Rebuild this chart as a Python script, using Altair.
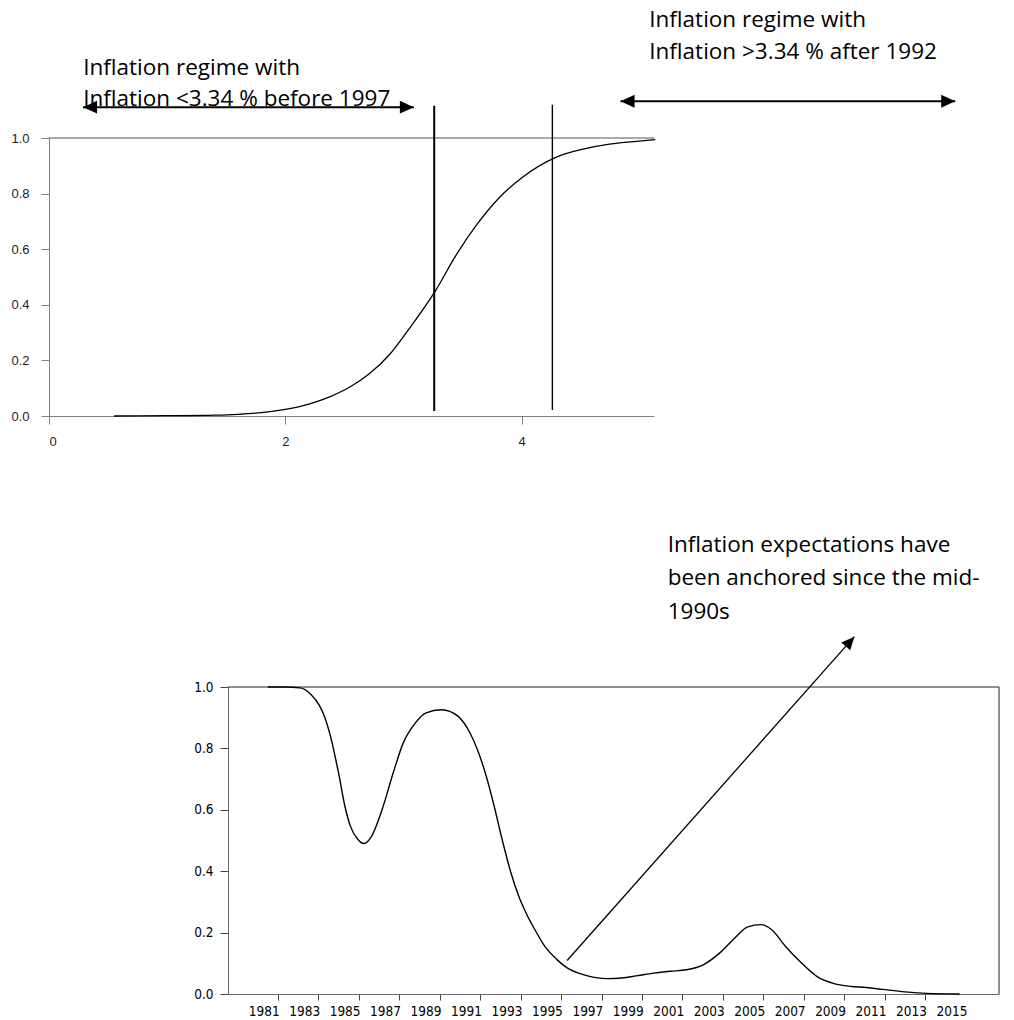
import altair as alt
import pandas as pd

# ---------------- top chart data (transition probability vs inflation) ----------------
infl = [0.55, 1.0, 1.4, 1.6, 1.8, 2.0, 2.2, 2.37, 2.55, 2.7, 2.89, 3.05, 3.27, 3.44,
        3.62, 3.81, 4.01, 4.27, 4.54, 4.73, 4.95, 5.13]
prob = [0.0, 0.001, 0.003, 0.006, 0.012, 0.024, 0.043, 0.068, 0.105, 0.148, 0.225, 0.315,
        0.45, 0.575, 0.688, 0.785, 0.86, 0.927, 0.962, 0.977, 0.987, 0.994]
top_xticks = [0, 2, 4]
top_yticks = [0.0, 0.2, 0.4, 0.6, 0.8, 1.0]
top_xdomain = [0, 5.12]
vline_x = [3.26, 4.26]
vline_y0 = [0.018, 0.022]
vline_y1 = [1.116, 1.12]
vline_w = [2.0, 1.4]

# arrows (double headed) in top chart coordinates
arrow_x0 = [0.288, 4.837]
arrow_x1 = [3.088, 7.669]
arrow_y = [1.111, 1.132]

top_text = ["Inflation regime with", "Inflation <3.34 % before 1997",
            "Inflation regime with", "Inflation >3.34 % after 1992"]
top_text_x = [0.29, 0.29, 5.08, 5.08]
top_text_y = [1.253, 1.141, 1.4231, 1.31]

# ---------------- bottom chart data (probability over time) ----------------
years = [1981.2, 1982.0, 1982.8, 1983.35, 1983.75, 1984.0, 1984.3, 1984.7, 1985.02, 1985.29,
         1985.64, 1985.96, 1986.3, 1986.85, 1987.4, 1987.9, 1988.5, 1989.0, 1989.8, 1990.6,
         1991.2, 1991.6, 1992.0, 1992.4, 1992.8, 1993.2, 1993.6, 1994.0, 1994.4, 1994.9,
         1995.5, 1996.0, 1996.8, 1998.0, 1998.7, 1999.5, 2000.3, 2001.1, 2001.9, 2002.75,
         2003.55, 2004.4, 2004.9, 2005.6, 2006.1, 2006.8, 2007.6, 2008.4, 2009.2, 2010.0,
         2010.8, 2011.6, 2012.7, 2013.8, 2015.4]
values = [1.0, 1.0, 0.997, 0.975, 0.94, 0.905, 0.84, 0.72, 0.61, 0.546,
          0.505, 0.49, 0.51, 0.60, 0.72, 0.818, 0.883, 0.915, 0.926, 0.905,
          0.85, 0.79, 0.71, 0.61, 0.50, 0.40, 0.32, 0.26, 0.21, 0.155,
          0.112, 0.085, 0.063, 0.05, 0.052, 0.06, 0.068, 0.074, 0.079, 0.096,
          0.134, 0.19, 0.218, 0.226, 0.21, 0.155, 0.10, 0.055, 0.034, 0.025,
          0.021, 0.015, 0.007, 0.002, 0.0]
bot_xdomain = [1979.235, 2017.35]
bot_year_ticks = list(range(1981, 2016))
bot_yticks = [0.0, 0.2, 0.4, 0.6, 0.8, 1.0]

diag_x0, diag_y0 = 1996.0, 0.109
diag_x1, diag_y1 = 2010.2, 1.164

bot_text = ["Inflation expectations have", "been anchored since the mid-", "1990s"]
bot_text_x = [2000.97, 2000.97, 2000.97]
bot_text_y = [1.4635, 1.356, 1.245]

HEAD = "M0,0L-1,-0.46L-1,0.46Z"
NOTE_FONT = "Open Sans"
NOTE_SIZE = 22.5
NARROW = "'DejaVu Sans Condensed', 'Liberation Sans', sans-serif"

# ======================= TOP CHART =======================
tx = alt.Scale(domain=top_xdomain, nice=False, zero=False)
ty = alt.Scale(domain=[0, 1], nice=False)

top_axis_x = alt.Axis(values=top_xticks, format="d", title=None, grid=False, tickSize=8,
                      labelPadding=11, domainColor="#808080", tickColor="#808080",
                      labelFont="Liberation Sans", labelFontSize=13, labelColor="#222222")
top_axis_y = alt.Axis(values=top_yticks, format=".1f", title=None, grid=False, tickSize=8,
                      labelPadding=12, domainColor="#808080", tickColor="#808080",
                      labelFont="Liberation Sans", labelFontSize=13, labelColor="#222222")

curve_df = pd.DataFrame({"x": infl, "y": prob})
top_curve = alt.Chart(curve_df).mark_line(color="black", strokeWidth=1.3, interpolate="monotone").encode(
    x=alt.X("x:Q", scale=tx, axis=top_axis_x),
    y=alt.Y("y:Q", scale=ty, axis=top_axis_y),
)

top_border = alt.Chart(pd.DataFrame({"x": [top_xdomain[0]], "x2": [top_xdomain[1]], "y": [1.0]})).mark_rule(
    color="#555555", strokeWidth=1).encode(x=alt.X("x:Q", scale=tx), x2="x2:Q", y=alt.Y("y:Q", scale=ty))

vl_df = pd.DataFrame({"x": vline_x, "y": vline_y0, "y2": vline_y1, "w": vline_w})
top_vlines = alt.Chart(vl_df).mark_rule(color="black").encode(
    x=alt.X("x:Q", scale=tx), y=alt.Y("y:Q", scale=ty), y2="y2:Q",
    strokeWidth=alt.StrokeWidth("w:Q", scale=None, legend=None))

ar_df = pd.DataFrame({"x": arrow_x0, "x2": arrow_x1, "y": arrow_y})
top_shafts = alt.Chart(ar_df).mark_rule(color="black", strokeWidth=2).encode(
    x=alt.X("x:Q", scale=tx), x2="x2:Q", y=alt.Y("y:Q", scale=ty))

heads_df = pd.DataFrame({
    "x": arrow_x0 + arrow_x1,
    "y": arrow_y + arrow_y,
    "a": [180, 180, 0, 0],
})
top_heads = alt.Chart(heads_df).mark_point(shape=HEAD, filled=True, color="black", opacity=1, size=784).encode(
    x=alt.X("x:Q", scale=tx), y=alt.Y("y:Q", scale=ty),
    angle=alt.Angle("a:Q", scale=None))

tt_df = pd.DataFrame({"t": top_text, "x": top_text_x, "y": top_text_y})
top_texts = alt.Chart(tt_df).mark_text(align="left", baseline="middle", font=NOTE_FONT,
                                       fontSize=NOTE_SIZE, color="black").encode(
    x=alt.X("x:Q", scale=tx), y=alt.Y("y:Q", scale=ty), text="t:N")

top = alt.layer(top_border, top_curve, top_vlines, top_shafts, top_heads, top_texts).properties(
    width=605, height=278)

# ======================= BOTTOM CHART =======================
bx = alt.Scale(domain=bot_xdomain, nice=False, zero=False)
by = alt.Scale(domain=[0, 1], nice=False)
px_per_year = 771 / (bot_xdomain[1] - bot_xdomain[0])
toff = 0.7 * px_per_year

bot_axis_x = alt.Axis(values=bot_year_ticks, format="d", title=None, grid=False, tickSize=6,
                      tickOffset=toff, labelOffset=-toff,
                      labelExpr="datum.value % 2 == 1 ? datum.label : ''",
                      tickOpacity={"condition": {"test": "datum.value == 2015", "value": 0}, "value": 1},
                      labelPadding=4, domainColor="#666666", tickColor="#444444",
                      labelFont=NARROW, labelFontSize=13.5, labelColor="black")
bot_axis_y = alt.Axis(values=bot_yticks, format=".1f", title=None, grid=False, tickSize=8,
                      labelPadding=7, domainColor="#666666", tickColor="#444444",
                      labelFont=NARROW, labelFontSize=13.5, labelColor="black")

series_df = pd.DataFrame({"x": years, "y": values})
bot_curve = alt.Chart(series_df).mark_line(color="black", strokeWidth=1.4, interpolate="monotone").encode(
    x=alt.X("x:Q", scale=bx, axis=bot_axis_x),
    y=alt.Y("y:Q", scale=by, axis=bot_axis_y),
)

border_df = pd.DataFrame({
    "x": [bot_xdomain[0], bot_xdomain[1]],
    "x2": [bot_xdomain[1], bot_xdomain[1]],
    "y": [1.0, 0.0],
    "y2": [1.0, 1.0],
})
bot_border = alt.Chart(border_df).mark_rule(color="#222222", strokeWidth=1).encode(
    x=alt.X("x:Q", scale=bx), x2="x2:Q", y=alt.Y("y:Q", scale=by), y2="y2:Q")

diag_df = pd.DataFrame({"x": [diag_x0], "x2": [diag_x1], "y": [diag_y0], "y2": [diag_y1]})
bot_diag = alt.Chart(diag_df).mark_rule(color="black", strokeWidth=1.3).encode(
    x=alt.X("x:Q", scale=bx), x2="x2:Q", y=alt.Y("y:Q", scale=by), y2="y2:Q")

dhead_df = pd.DataFrame({"x": [diag_x1], "y": [diag_y1], "a": [311.5]})
bot_head = alt.Chart(dhead_df).mark_point(shape=HEAD, filled=True, color="black", opacity=1, size=676).encode(
    x=alt.X("x:Q", scale=bx), y=alt.Y("y:Q", scale=by), angle=alt.Angle("a:Q", scale=None))

bt_df = pd.DataFrame({"t": bot_text, "x": bot_text_x, "y": bot_text_y})
bot_texts = alt.Chart(bt_df).mark_text(align="left", baseline="middle", font=NOTE_FONT,
                                       fontSize=NOTE_SIZE, color="black").encode(
    x=alt.X("x:Q", scale=bx), y=alt.Y("y:Q", scale=by), text="t:N")

bottom = alt.layer(bot_border, bot_curve, bot_diag, bot_head, bot_texts).properties(width=771, height=307)

spacer = alt.Chart(pd.DataFrame({"v": [0]})).mark_point(size=0, opacity=0).encode(
    x=alt.X("v:Q", axis=None), y=alt.Y("v:Q", axis=None)).properties(width=144, height=10)

chart = alt.vconcat(top, alt.hconcat(spacer, bottom, spacing=0), spacing=85).properties(
    padding={"left": 2, "top": 1, "right": 0, "bottom": 0}
).configure_view(strokeWidth=0)

chart.save("out.html", embed_options={"renderer": "svg", "actions": False})
